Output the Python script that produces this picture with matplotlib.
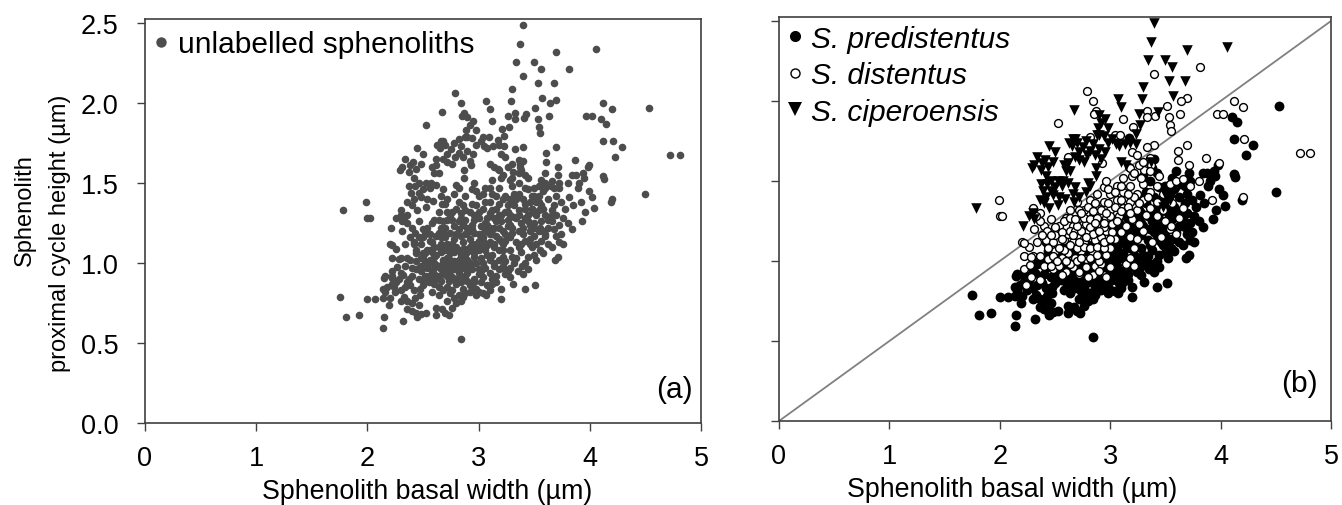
"""Sphenolith size scatter plots: (a) all specimens, (b) split by species."""

import matplotlib
matplotlib.use("Agg")
import matplotlib.pyplot as plt
from matplotlib.lines import Line2D

plt.rcParams["font.family"] = ["Liberation Sans", "DejaVu Sans"]

# (basal width, proximal cycle height)
predistentus = [
    (4.53, 1.97), (4.10, 1.90), (4.15, 1.87), (4.12, 1.76), (4.29, 1.725), (4.23, 1.66), (4.50, 1.43),
    (4.12, 1.545), (4.13, 1.525), (1.75, 0.79), (1.81, 0.66), (1.92, 0.675), (2.00, 0.775), (2.07, 0.775),
    (2.14, 0.595), (2.15, 0.66), (2.32, 0.64), (2.45, 0.66), (2.53, 0.685), (2.62, 0.675), (2.73, 0.675),
    (2.84, 0.527), (3.20, 0.775), (3.42, 0.84), (3.51, 0.86), (3.31, 0.87), (3.69, 1.02), (3.71, 1.035),
    (3.84, 1.215), (3.93, 1.26), (4.04, 1.345), (3.96, 1.32), (4.19, 1.38), (4.02, 1.415), (3.99, 1.45),
    (3.94, 1.56), (3.89, 1.47), (3.81, 1.415), (3.85, 1.365), (3.17, 1.77),
    (2.36, 0.71), (2.40, 0.70), (2.44, 0.69), (2.48, 0.68), (2.70, 0.69), (2.76, 0.72), (2.80, 0.75),
    (2.62, 0.72), (2.67, 0.71), (2.14, 0.78), (2.19, 0.74), (2.20, 0.78), (2.30, 0.76), (2.33, 0.79),
    (2.36, 0.76), (2.40, 0.75), (2.43, 0.78), (2.47, 0.80), (2.72, 0.76), (2.78, 0.78), (2.82, 0.80),
    (2.86, 0.79), (2.84, 0.76), (3.00, 0.82), (3.04, 0.81), (3.07, 0.80), (2.16, 0.82), (2.18, 0.85),
    (2.22, 0.87), (2.26, 0.88), (2.30, 0.83), (2.34, 0.85), (2.38, 0.86), (2.42, 0.83), (2.47, 0.84),
    (2.50, 0.86), (2.55, 0.88), (2.60, 0.87), (2.64, 0.85), (2.68, 0.83), (2.72, 0.85), (2.76, 0.83),
    (2.80, 0.87), (2.86, 0.84), (2.92, 0.86), (2.98, 0.84), (3.02, 0.88), (3.08, 0.86), (3.12, 0.90),
    (3.16, 0.88), (3.24, 0.93), (3.28, 0.91), (3.35, 0.95), (3.39, 0.98), (2.16, 0.92), (2.22, 0.92),
    (2.30, 0.94), (2.34, 0.98), (2.40, 0.92), (2.44, 0.96), (2.52, 0.92), (2.58, 0.95), (2.64, 0.92),
    (2.70, 0.97), (2.76, 0.91), (2.82, 0.94), (2.88, 0.92), (2.94, 0.96), (3.00, 0.93), (3.06, 0.97),
    (3.10, 0.94), (3.14, 1.00), (3.18, 0.96), (3.22, 0.98), (3.28, 0.97), (3.32, 1.00), (3.40, 0.93),
    (3.42, 1.00), (2.38, 1.02), (2.44, 1.06), (2.50, 1.03), (2.56, 1.08), (2.90, 1.02), (2.96, 1.06),
    (3.02, 1.03), (3.06, 1.08), (3.12, 1.05), (3.18, 1.08), (3.22, 1.04), (3.28, 1.08), (3.34, 1.03),
    (3.38, 1.07), (3.44, 1.04), (3.48, 1.10), (3.52, 1.02), (3.55, 1.08), (3.50, 1.05), (2.42, 1.12),
    (2.98, 1.12), (3.04, 1.16), (3.10, 1.13), (3.16, 1.17), (3.22, 1.12), (3.28, 1.16), (3.34, 1.13),
    (3.40, 1.18), (3.46, 1.12), (3.50, 1.17), (3.56, 1.14), (3.60, 1.18), (3.62, 1.12), (3.66, 1.10),
    (3.72, 1.13), (3.76, 1.12), (3.70, 1.17), (3.74, 1.18), (3.10, 1.22), (3.16, 1.26), (3.22, 1.20),
    (3.28, 1.24), (3.34, 1.28), (3.40, 1.22), (3.44, 1.26), (3.50, 1.22), (3.56, 1.26), (3.62, 1.22),
    (3.66, 1.26), (3.72, 1.24), (3.76, 1.28), (3.26, 1.32), (3.32, 1.36), (3.48, 1.34), (3.52, 1.38),
    (3.58, 1.34), (3.62, 1.40), (3.68, 1.36), (3.74, 1.38), (3.70, 1.42), (3.78, 1.34), (3.60, 1.47),
    (3.65, 1.48), (3.72, 1.50), (3.68, 1.47), (3.58, 1.45), (3.71, 1.55), (3.60, 1.56), (3.88, 1.55),
    (3.90, 1.50), (3.84, 1.55), (3.95, 1.53), (3.98, 1.60), (3.40, 1.64), (3.38, 1.58), (3.42, 1.55),
    (3.36, 1.50), (3.30, 1.53),
    # densest part of the cloud, second pass
    (2.15, 0.905), (2.22, 0.905), (2.14, 0.84), (2.25, 0.82), (2.32, 0.925), (2.37, 0.90), (2.46, 0.90),
    (2.50, 0.89), (2.55, 0.92), (2.61, 0.90), (2.66, 0.89), (2.73, 0.89), (2.78, 0.90), (2.84, 0.88),
    (2.90, 0.89), (2.96, 0.88), (3.04, 0.91), (3.12, 0.87), (2.48, 0.98), (2.55, 1.00), (2.62, 0.99),
    (2.68, 1.00), (2.74, 0.99), (2.80, 1.00), (2.86, 1.00), (2.92, 1.00), (2.98, 1.00), (3.04, 1.00),
    (3.10, 1.02), (2.52, 1.06), (2.60, 1.04), (2.66, 1.07), (2.72, 1.03), (2.78, 1.07), (2.84, 1.03),
    (2.90, 1.07), (2.96, 1.10), (3.02, 1.10), (3.08, 1.11), (3.14, 1.10), (2.60, 1.10), (2.68, 1.10),
    (2.74, 1.09), (2.80, 1.10), (2.86, 1.09), (2.92, 1.10), (3.00, 1.18), (3.06, 1.20), (3.12, 1.18),
    (3.18, 1.22), (3.24, 1.18), (3.30, 1.22), (3.36, 1.20), (3.42, 1.14), (3.46, 1.20), (3.52, 1.12),
    (3.58, 1.20), (3.08, 1.24), (3.14, 1.28), (3.20, 1.30), (3.28, 1.30), (3.36, 1.30), (3.44, 1.30),
    (3.52, 1.30), (3.60, 1.30), (3.66, 1.30), (3.70, 1.30), (3.46, 1.38), (3.54, 1.42), (3.40, 1.40),
    (3.32, 1.43), (3.28, 1.40), (3.44, 1.46), (3.50, 1.47), (3.56, 1.52), (3.80, 1.25), (3.68, 1.21),
    (3.58, 1.06), (3.44, 0.96), (3.26, 0.95), (2.98, 0.80), (2.92, 0.82), (3.20, 0.84), (2.46, 0.74),
    # third pass, gaps left in the solid centre
    (2.58, 0.82), (2.64, 0.80), (2.74, 0.81), (2.88, 0.81), (2.94, 0.84), (3.10, 0.83), (3.16, 0.92),
    (3.30, 1.04), (3.36, 1.10), (3.24, 1.01), (3.20, 1.14), (3.14, 1.12), (3.08, 1.05), (3.02, 0.95),
    (2.90, 0.97), (2.82, 0.97), (2.74, 0.95), (2.68, 0.93), (2.60, 0.97), (3.26, 1.27), (3.38, 1.25),
    (3.46, 1.24), (3.54, 1.33), (3.42, 1.34),
]

distentus = [
    (3.81, 2.21), (3.40, 2.17), (2.79, 2.06), (2.84, 2.00), (3.70, 2.02), (3.64, 2.00), (3.51, 1.97),
    (4.12, 2.00), (4.20, 1.96), (2.87, 1.94), (3.33, 1.94), (3.97, 1.92), (4.02, 1.92), (3.63, 1.92),
    (3.53, 1.90), (3.41, 1.905), (3.33, 1.90), (2.85, 1.92), (3.12, 1.89), (2.53, 1.865), (3.21, 1.84),
    (3.54, 1.85), (3.55, 1.815), (2.82, 1.775), (3.04, 1.79), (3.09, 1.79), (4.21, 1.76), (3.70, 1.725),
    (3.40, 1.725), (3.33, 1.71), (3.61, 1.69), (4.72, 1.675), (4.81, 1.675), (3.20, 1.68), (3.24, 1.66),
    (2.62, 1.65), (3.87, 1.645), (3.36, 1.645), (3.61, 1.63), (3.99, 1.615), (3.71, 1.60), (2.93, 1.61),
    (3.17, 1.59), (3.31, 1.57), (3.37, 1.60), (1.99, 1.38), (2.00, 1.28), (2.02, 1.28),
    (2.24, 0.85), (2.28, 0.90), (2.22, 0.95), (2.36, 0.88), (2.48, 0.95), (2.40, 0.97), (2.54, 0.97),
    (2.60, 0.93), (2.66, 0.96), (2.72, 0.92), (2.78, 0.96), (2.84, 0.91), (2.86, 0.97), (2.96, 0.90),
    (2.92, 0.98), (3.00, 0.96), (3.14, 0.98), (3.22, 0.97), (2.22, 1.03), (2.30, 1.03), (2.36, 1.03),
    (2.44, 1.01), (2.50, 1.06), (2.56, 1.02), (2.62, 1.05), (2.68, 1.02), (2.74, 1.06), (2.78, 1.01),
    (2.84, 1.05), (2.90, 1.00), (2.96, 1.04), (3.00, 1.08), (3.18, 1.02), (3.22, 1.08), (2.20, 1.12),
    (2.42, 1.13), (2.48, 1.12), (2.52, 1.18), (2.58, 1.13), (2.62, 1.17), (2.66, 1.12), (2.70, 1.16),
    (2.76, 1.12), (2.80, 1.18), (2.86, 1.13), (2.92, 1.15), (2.96, 1.19), (3.04, 1.14), (3.10, 1.18),
    (3.18, 1.15), (3.24, 1.14), (3.30, 1.19), (3.38, 1.12), (3.46, 1.15), (3.54, 1.20), (3.60, 1.17),
    (2.40, 1.22), (2.46, 1.26), (2.54, 1.22), (2.60, 1.27), (2.66, 1.22), (2.72, 1.27), (2.78, 1.23),
    (2.84, 1.28), (2.90, 1.22), (2.96, 1.27), (3.02, 1.23), (3.08, 1.28), (3.14, 1.22), (3.20, 1.26),
    (3.26, 1.23), (3.32, 1.29), (3.42, 1.28), (3.50, 1.25), (3.55, 1.22), (3.62, 1.27), (2.30, 1.33),
    (2.36, 1.30), (2.64, 1.32), (2.70, 1.37), (2.76, 1.32), (2.82, 1.38), (2.88, 1.33), (2.94, 1.37),
    (3.00, 1.32), (3.06, 1.38), (3.12, 1.33), (3.18, 1.37), (3.24, 1.32), (3.30, 1.38), (3.36, 1.33),
    (3.42, 1.37), (3.48, 1.32), (3.56, 1.36), (3.66, 1.33), (3.92, 1.38), (4.20, 1.40), (2.88, 1.42),
    (2.94, 1.46), (3.00, 1.42), (3.06, 1.47), (3.12, 1.43), (3.18, 1.47), (3.24, 1.42), (3.30, 1.48),
    (3.36, 1.43), (3.42, 1.47), (3.48, 1.42), (3.54, 1.48), (3.60, 1.50), (3.66, 1.51), (3.80, 1.50),
    (3.72, 1.47), (3.28, 1.52), (3.12, 1.52), (3.20, 1.53), (2.96, 1.50), (3.18, 1.58), (3.26, 1.60),
    (3.30, 1.62), (3.36, 1.56), (3.44, 1.53), (3.22, 1.55),
    # densest part of the cloud, second pass
    (2.36, 1.25), (2.33, 1.28), (2.31, 1.20), (2.26, 1.09), (2.28, 1.025), (2.27, 0.975), (2.22, 1.11),
    (2.43, 1.19), (2.50, 1.16), (2.56, 1.18), (2.64, 1.19), (2.68, 1.19), (2.74, 1.19), (2.82, 1.21),
    (2.88, 1.18), (2.94, 1.21), (3.02, 1.18), (2.58, 1.25), (2.64, 1.27), (2.70, 1.22), (2.76, 1.27),
    (2.82, 1.26), (2.88, 1.27), (2.94, 1.24), (3.00, 1.28), (3.06, 1.25), (2.58, 1.07), (2.64, 1.10),
    (2.70, 1.08), (2.76, 1.09), (2.82, 1.08), (2.88, 1.09), (2.94, 1.08), (2.48, 1.03), (2.54, 1.08),
    (2.72, 1.32), (2.80, 1.34), (2.86, 1.36), (2.92, 1.32), (2.98, 1.36), (3.04, 1.34), (3.10, 1.38),
    (3.16, 1.34), (3.22, 1.40), (2.98, 1.45), (3.04, 1.43), (3.10, 1.47), (3.16, 1.42), (2.72, 0.93),
    (2.80, 0.90), (2.90, 0.94), (2.56, 0.91), (2.64, 0.98), (2.46, 0.97),
    # third pass, gaps left in the solid centre
    (2.52, 1.00), (2.60, 1.00), (2.70, 1.00), (2.74, 1.02), (2.82, 1.02), (2.88, 1.04), (2.94, 1.12),
    (3.00, 1.14), (2.72, 1.12), (2.84, 1.17), (2.78, 1.15), (2.90, 1.19), (2.56, 1.14), (2.66, 1.16),
    (2.86, 1.24), (2.68, 1.26), (2.74, 1.30), (2.84, 1.31), (2.96, 1.30), (3.10, 1.31), (3.18, 1.30),
    (2.50, 1.21), (2.46, 1.16), (2.44, 1.08), (2.34, 1.12), (2.38, 1.16), (3.26, 1.36), (3.34, 1.40),
]

ciperoensis = [
    (3.40, 2.49), (3.37, 2.37), (3.70, 2.32), (4.06, 2.34), (3.34, 2.255), (3.50, 2.255), (3.56, 2.21),
    (3.53, 2.125), (3.68, 2.125), (3.30, 2.09), (3.07, 2.01), (3.29, 2.01), (3.57, 2.03), (3.10, 1.96),
    (2.67, 1.945), (3.26, 1.92), (3.43, 1.93), (2.90, 1.91), (2.95, 1.89), (3.27, 1.85), (2.89, 1.83),
    (2.98, 1.83), (3.23, 1.795), (2.90, 1.785), (2.66, 1.76), (2.68, 1.76), (2.63, 1.74), (2.65, 1.72),
    (2.98, 1.74), (3.05, 1.73), (3.13, 1.73), (3.23, 1.73), (2.45, 1.72), (2.50, 1.68), (2.84, 1.73),
    (2.75, 1.71), (2.82, 1.69), (2.90, 1.70), (2.95, 1.68), (2.79, 1.66), (2.72, 1.63), (2.68, 1.65),
    (2.76, 1.62), (2.62, 1.61), (2.60, 1.56), (2.34, 1.65), (2.41, 1.63), (2.48, 1.62), (2.38, 1.61),
    (2.29, 1.58), (2.37, 1.57), (2.31, 1.60), (3.10, 1.62), (3.37, 1.62), (2.87, 1.58), (2.80, 1.49),
    (2.87, 1.53), (2.37, 1.48), (2.43, 1.48), (2.53, 1.50), (2.57, 1.50), (2.62, 1.49), (2.39, 1.44),
    (2.46, 1.44), (2.56, 1.47), (2.68, 1.46), (2.78, 1.43), (2.82, 1.47), (2.48, 1.41), (2.54, 1.40),
    (2.59, 1.39), (2.67, 1.37), (2.40, 1.36), (2.45, 1.33), (2.53, 1.35), (2.26, 1.28), (2.21, 1.22),
    (2.31, 1.26), (1.78, 1.33), (3.54, 1.38), (3.50, 1.42), (3.48, 1.34),
    (2.92, 1.86), (2.88, 1.79), (2.94, 1.78), (3.02, 1.76), (3.08, 1.72), (3.18, 1.74), (2.70, 1.74),
    (2.72, 1.68), (2.78, 1.75), (2.86, 1.66), (2.92, 1.64), (3.14, 1.60), (2.58, 1.60), (2.64, 1.56),
    (2.44, 1.59), (2.42, 1.53), (2.46, 1.50), (2.50, 1.46), (2.66, 1.42), (2.72, 1.40), (2.36, 1.38),
    (2.42, 1.40), (2.30, 1.30),
]

species = [predistentus, distentus, ciperoensis]
unlabelled = predistentus + distentus + ciperoensis

x_ticks = [0, 1, 2, 3, 4, 5]
y_ticks = [0.0, 0.5, 1.0, 1.5, 2.0, 2.5]
w, h = 1342, 506
frame = "#404040"
dot_gray = "#4d4d4d"


def style_axes(ax, label_x):
    ax.set_xlim(0, 5)
    ax.set_ylim(0, 2.525)
    ax.set_xticks(x_ticks)
    ax.set_yticks(y_ticks)
    ax.tick_params(labelsize=19.5, length=6, width=1, color=frame)
    ax.tick_params(axis="x", pad=9.5)
    ax.tick_params(axis="y", pad=13)
    for spine in ax.spines.values():
        spine.set_color(frame)
        spine.set_linewidth(1.2)
    ax.set_xlabel("Sphenolith basal width (µm)", fontsize=19.3, va="top")
    ax.xaxis.set_label_coords(label_x, -0.137)


fig = plt.figure(figsize=(w / 100, h / 100), dpi=100)
ax_a = fig.add_axes([145 / w, 1 - 424 / h, 556 / w, 404 / h])
ax_b = fig.add_axes([779 / w, 1 - 422 / h, 552 / w, 404 / h])

# panel a: everything in one colour
xa, ya = zip(*unlabelled)
ax_a.scatter(xa, ya, s=30, color=dot_gray, linewidths=0, clip_on=False)
style_axes(ax_a, 0.507)
ax_a.set_yticklabels(["0.0", "0.5", "1.0", "1.5", "2.0", "2.5"])
# the two label lines are not centred on each other in the original
fig.text(25 / w, 1 - 210 / h, "Sphenolith", rotation=90, ha="center", va="center", fontsize=17)
fig.text(60 / w, 1 - 233 / h, "proximal cycle height (µm)", rotation=90, ha="center", va="center", fontsize=17)
ax_a.legend(handles=[Line2D([], [], ls="", marker="o", ms=7.5, color=dot_gray, mew=0)],
            labels=["unlabelled sphenoliths"], loc="upper left", frameon=False, fontsize=21.5,
            handlelength=1, handletextpad=0.05, borderaxespad=0, borderpad=0.3,
            bbox_to_anchor=(-0.014, 0.995))
ax_a.text(0.985, 0.085, "(a)", transform=ax_a.transAxes, ha="right", va="center", fontsize=21.5)

# panel b: by species, 1:2 reference line underneath
ax_b.plot([0, 5], [0, 2.5], color="#808080", lw=1.3, zorder=1)
xp, yp = zip(*predistentus)
xd, yd = zip(*distentus)
xc, yc = zip(*ciperoensis)
ax_b.scatter(xp, yp, s=50, color="black", linewidths=0, zorder=2)
ax_b.scatter(xd, yd, s=32, facecolor="white", edgecolor="black", linewidths=1, zorder=3)
ax_b.scatter(xc, yc, s=58, marker="v", color="black", linewidths=0, zorder=4, clip_on=False)
style_axes(ax_b, 0.422)
ax_b.set_yticklabels([])
handles = [
    Line2D([], [], ls="", marker="o", ms=8, color="black", mew=0),
    Line2D([], [], ls="", marker="o", ms=6.5, mfc="white", mec="black", mew=1),
    Line2D([], [], ls="", marker="v", ms=10, color="black", mew=0),
]
ax_b.legend(handles=handles, labels=["S. predistentus", "S. distentus", "S. ciperoensis"],
            loc="upper left", frameon=False, prop={"size": 21.5, "style": "italic"},
            handlelength=1, handletextpad=0.05, borderaxespad=0, borderpad=0.1,
            labelspacing=0.28, bbox_to_anchor=(-0.004, 0.988))
ax_b.text(0.976, 0.095, "(b)", transform=ax_b.transAxes, ha="right", va="center", fontsize=21.5)

fig.savefig("out.png", dpi=100)
